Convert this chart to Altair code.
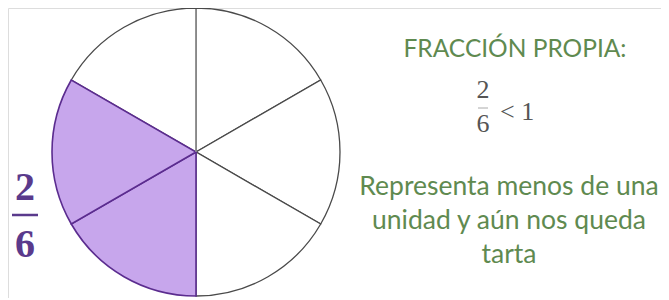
import math
import altair as alt
import pandas as pd

# Pie data: six equal slices, two shaded
slice_start = [0, 1, 2, 3, 4, 5]
slice_end = [1, 2, 3, 4, 5, 6]
shaded = [False, False, False, True, True, False]

title_text = "FRACCIÓN PROPIA:"
frac_num = "2"
frac_den = "6"
compare_text = "< 1"
body_lines = ["Representa menos de una", "unidad y aún nos queda", "tarta"]

df = pd.DataFrame({"start": slice_start, "end": slice_end, "shaded": shaded})

CX, CY, R = 188, 144, 144
theta_scale = alt.Scale(domain=[0, 6], range=[0, 2 * math.pi])

base = alt.Chart(df)

white = base.transform_filter("!datum.shaded").mark_arc(
    outerRadius=R, fill="#ffffff", stroke="#4a4a4a", strokeWidth=1.3
).encode(
    theta=alt.Theta("start:Q", scale=theta_scale),
    theta2="end:Q",
    x=alt.value(CX), y=alt.value(CY),
)

purple = base.transform_filter("datum.shaded").mark_arc(
    outerRadius=R, fill="#c7a6ec", stroke="#5b2c8f", strokeWidth=1.6
).encode(
    theta=alt.Theta("start:Q", scale=theta_scale),
    theta2="end:Q",
    x=alt.value(CX), y=alt.value(CY),
)

GREEN = "#5f8a50"
GRAY = "#555555"
PURP = "#5a3a8c"

def txt(text, x, y, size, color, font, weight="normal", align="center"):
    return alt.Chart(df.head(1)).mark_text(
        fontSize=size, font=font, color=color, fontWeight=weight,
        align=align, baseline="alphabetic"
    ).encode(x=alt.value(x), y=alt.value(y), text=alt.value(text))

layers = [white, purple]
# lighter top radius
layers.append(alt.Chart(df.head(1)).mark_rule(color="#9a9a9a", strokeWidth=1.4).encode(
    x=alt.value(CX), y=alt.value(CY - R + 1), y2=alt.value(CY)))
layers.append(txt(title_text, 507, 49, 24.5, GREEN, "Lato"))
layers.append(txt(frac_num, 475, 90, 26, GRAY, "Liberation Serif"))
layers.append(txt(frac_den, 475, 124, 26, GRAY, "Liberation Serif"))
layers.append(txt(compare_text, 492, 112, 26, GRAY, "Liberation Serif", align="left"))
layers.append(alt.Chart(df.head(1)).mark_rule(color="#aaaaaa", strokeWidth=1).encode(
    x=alt.value(470), x2=alt.value(480), y=alt.value(100)))
for i, line in enumerate(body_lines):
    layers.append(txt(line, 501, 187 + 34 * i, 26.5, GREEN, "Lato"))

layers.append(txt(frac_num, 17, 192, 40, PURP, "Liberation Serif", weight="bold"))
layers.append(alt.Chart(df.head(1)).mark_rule(color=PURP, strokeWidth=2.5).encode(
    x=alt.value(4), x2=alt.value(30), y=alt.value(207)))
layers.append(txt(frac_den, 17, 249, 40, PURP, "Liberation Serif", weight="bold"))

chart = alt.layer(*layers).properties(
    width=653, height=290, autosize=alt.AutoSizeParams(type="none"), padding=0
).configure_view(strokeWidth=0).configure(background="#ffffff")

chart.save("out.html", embed_options={"renderer": "svg", "actions": False})
